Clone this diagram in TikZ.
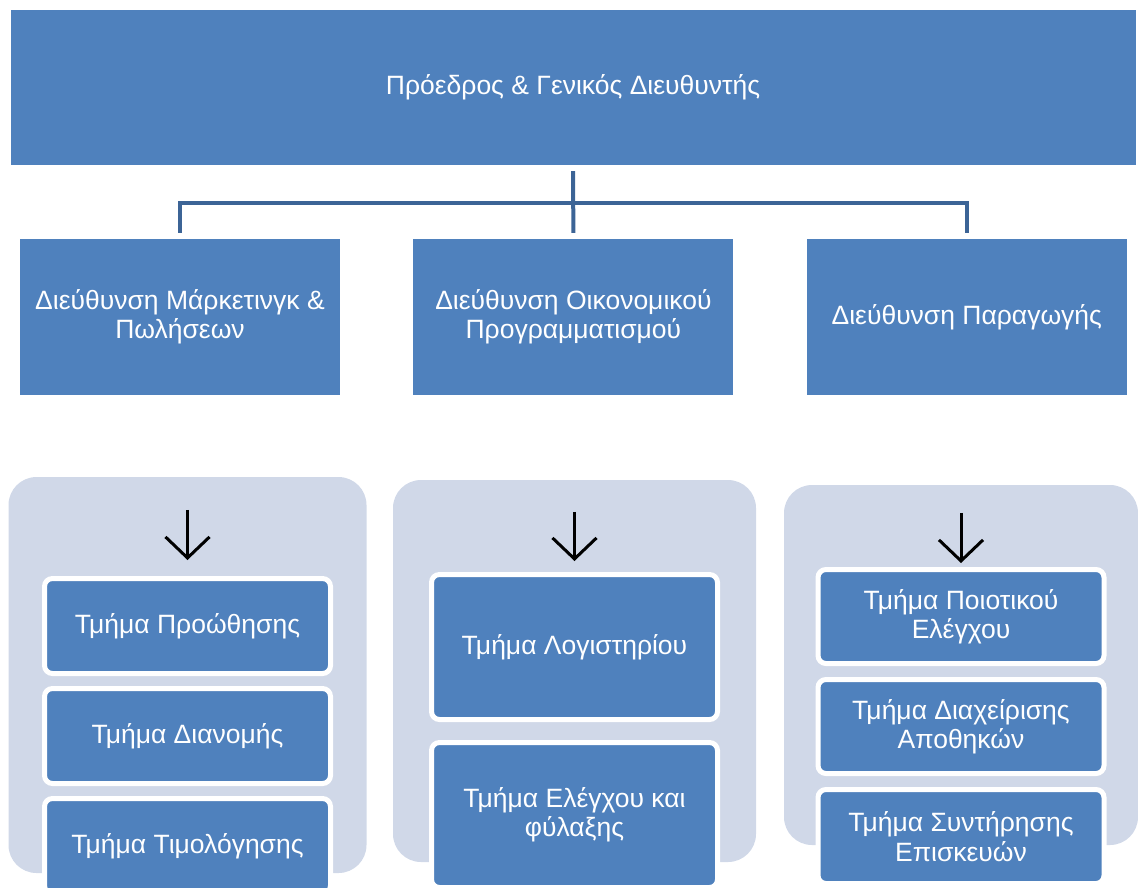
\documentclass[tikz,border=0pt]{standalone}
\usepackage{fontspec}
\setmainfont{Liberation Sans}
\usetikzlibrary{arrows.meta, positioning}
\definecolor{OrgBlue}{RGB}{79,129,189}
\definecolor{LinkBlue}{RGB}{60,100,150}
\definecolor{PanelGray}{RGB}{208,216,232}

\begin{document}
\begin{tikzpicture}[
  x=1pt, y=-1pt,
  font=\fontsize{26.5}{29.5}\selectfont,
  head/.style={rectangle, fill=OrgBlue, text=white, align=center, inner sep=0pt},
  dirbox/.style={head, minimum width=320pt, minimum height=156pt},
  panel/.style={rectangle, rounded corners=28pt, fill=PanelGray, inner sep=0pt},
  unit/.style={rectangle, rounded corners=8pt, fill=OrgBlue, draw=white,
               line width=5pt, text=white, align=center,
               minimum width=286pt, inner sep=0pt},
  link/.style={LinkBlue, line width=4pt},
  downarrow/.style={-{Straight Barb[length=21pt, width=44pt]}, black, line width=3pt}
]
\useasboundingbox (0,0) rectangle (1138,887);

% President
\node[head, minimum width=1125pt, minimum height=155pt] (boss) at (573,87.5)
  {Πρόεδρος \& Γενικός Διευθυντής};

% Directorates
\node[dirbox] (dirMkt) at (180,317) {Διεύθυνση Μάρκετινγκ \&\\Πωλήσεων};
\node[dirbox, right=73pt of dirMkt] (dirFin) {Διεύθυνση Οικονομικού\\Προγραμματισμού};
\node[dirbox, right=73pt of dirFin] (dirPrd) {Διεύθυνση Παραγωγής};

% Panels
\node[panel, minimum width=358pt, minimum height=396pt] (mktPanel) at (187.5,675) {};
\node[panel, minimum width=363pt, minimum height=382pt] (finPanel) at (574.5,671) {};
\node[panel, minimum width=354pt, minimum height=360pt] (prdPanel) at (961,665) {};

% Marketing departments
\node[unit, minimum height=95pt] (promo) at (187.5,626) {Τμήμα Προώθησης};
\node[unit, minimum height=95pt, below=10pt of promo] (distrib) {Τμήμα Διανομής};
\node[unit, minimum height=95pt, below=10pt of distrib] (pricing) {Τμήμα Τιμολόγησης};

% Finance departments
\node[unit, minimum height=145pt] (account) at (574.5,647) {Τμήμα Λογιστηρίου};
\node[unit, minimum height=145pt, below=18pt of account] (audit) {Τμήμα Ελέγχου και\\φύλαξης};

% Production departments
\node[unit, minimum height=94pt] (quality) at (961,616.5) {Τμήμα Ποιοτικού\\Ελέγχου};
\node[unit, minimum height=94pt, below=11pt of quality] (stores) {Τμήμα Διαχείρισης\\Αποθηκών};
\node[unit, minimum height=94pt, below=11pt of stores] (repair) {Τμήμα Συντήρησης\\Επισκευών};

% Links
\coordinate (bus) at (573,203);
\draw[link] ([yshift=-6pt]boss.south) -- ([yshift=6pt]dirFin.north);
\draw[link] ([yshift=6pt]dirMkt.north) |- (bus) -| ([yshift=6pt]dirPrd.north);

% Arrows
\draw[downarrow, shorten <=33pt, shorten >=16pt] (mktPanel.north) -- (promo.north);
\draw[downarrow, shorten <=32pt, shorten >=11pt] (finPanel.north) -- (account.north);
\draw[downarrow, shorten <=28pt, shorten >=4pt] (prdPanel.north) -- (quality.north);

\end{tikzpicture}
\end{document}
